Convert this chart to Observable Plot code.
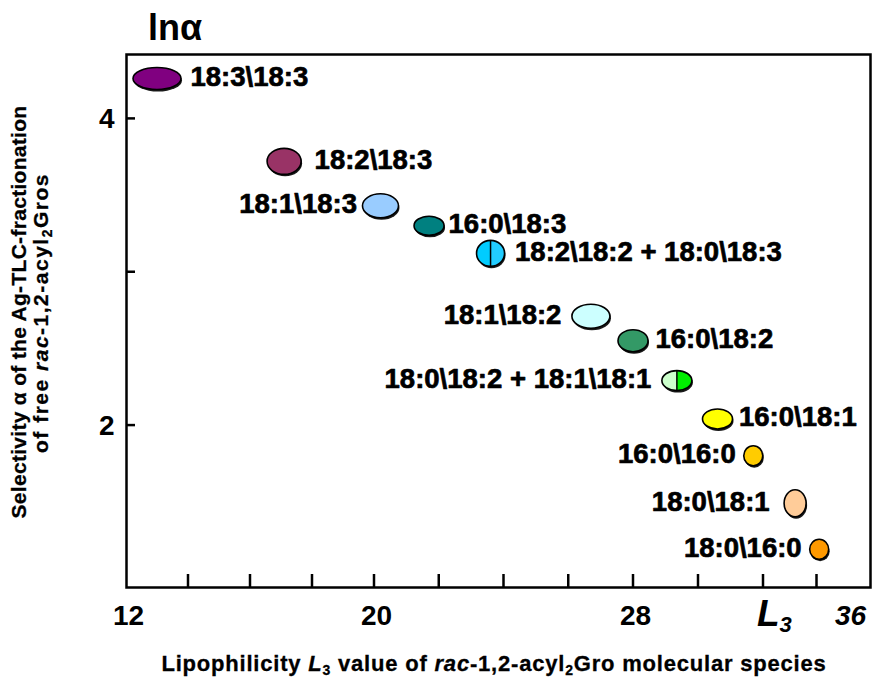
<!DOCTYPE html>
<html>
<head>
<meta charset="utf-8">
<script src="https://cdn.jsdelivr.net/npm/d3@7"></script>
<script src="https://cdn.jsdelivr.net/npm/@observablehq/plot@0.6"></script>
<style>
  body { margin: 0; background: #fff; }
  #chart svg { display: block; }
</style>
</head>
<body>
<div id="chart"></div>
<script>
// ---- data ----
const species = ["18:3\\18:3", "18:2\\18:3", "18:1\\18:3", "16:0\\18:3", "18:2\\18:2 + 18:0\\18:3",
  "18:1\\18:2", "16:0\\18:2", "18:0\\18:2 + 18:1\\18:1", "16:0\\18:1", "16:0\\16:0", "18:0\\18:1", "18:0\\16:0"];
const lipophilicityL3 = [13.0, 17.1, 20.2, 21.7, 23.6, 26.7, 28.0, 29.35, 30.6, 31.7, 33.2, 34.1];
const lnAlpha = [4.26, 3.72, 3.43, 3.30, 3.12, 2.71, 2.55, 2.29, 2.04, 1.80, 1.49, 1.19];

const xTicks = [14, 16, 18, 20, 22, 24, 26, 28, 30, 32, 34];
const xTickLabels = [12, 20, 28];
const xTickLabelsItalic = [36];
const yTicks = [2, 3, 4];
const yTickLabels = [2, 4];

// ---- styles (not data) ----
const fillLeft  = ["#800080", "#993366", "#99CCFF", "#008080", "#00CCFF", "#CCFFFF", "#339966", "#CCFFCC", "#FFFF00", "#FFCC00", "#FFCC99", "#FF9900"];
const fillRight = ["#800080", "#993366", "#99CCFF", "#008080", "#22CCFF", "#CCFFFF", "#339966", "#00EE00", "#FFFF00", "#FFCC00", "#FFCC99", "#FF9900"];
const splitMark = [false, false, false, false, true, false, false, true, false, false, false, false];
const radiusX = [24, 17, 18, 15, 14, 19, 15, 15, 15, 9.5, 11, 9.5];
const radiusY = [11, 13, 12, 9.5, 13, 12, 11, 10, 10, 10, 13.5, 10];
const labelSide = ["start", "start", "end", "start", "start", "end", "start", "end", "start", "end", "end", "end"];
const labelDx = [33, 30, -24, 19, 24, -30, 22, -26, 21, -18, -26, -18];

const points = species.map((s, i) => ({species: s, L3: lipophilicityL3[i], lnAlpha: lnAlpha[i], i}));

const FONT = "'Liberation Sans', Arial, Helvetica, sans-serif";

function ellipseMark(index, scales) {
  const g = d3.create("svg:g");
  points.forEach((p, i) => {
    const cx = scales.x(p.L3), cy = scales.y(p.lnAlpha);
    const rx = radiusX[i], ry = radiusY[i];
    g.append("ellipse").attr("cx", cx + 1).attr("cy", cy + 2).attr("rx", rx).attr("ry", ry).attr("fill", "#1a1a1a");
    g.append("ellipse").attr("cx", cx).attr("cy", cy).attr("rx", rx).attr("ry", ry)
      .attr("fill", fillLeft[i]);
    if (fillRight[i] !== fillLeft[i]) {
      g.append("path")
        .attr("d", `M${cx},${cy - ry}A${rx},${ry} 0 0 1 ${cx},${cy + ry}Z`)
        .attr("fill", fillRight[i]);
    }
    if (splitMark[i]) {
      g.append("line").attr("x1", cx).attr("x2", cx).attr("y1", cy - ry).attr("y2", cy + ry)
        .attr("stroke", "black").attr("stroke-width", 1.5);
    }
    g.append("ellipse").attr("cx", cx).attr("cy", cy).attr("rx", rx).attr("ry", ry)
      .attr("fill", "none").attr("stroke", "black").attr("stroke-width", 1.6);
  });
  return g.node();
}

function tickMark(index, scales, values, dimensions) {
  const {height, marginBottom, marginLeft} = dimensions;
  const g = d3.create("svg:g").attr("stroke", "black").attr("stroke-width", 2.5);
  const yb = height - marginBottom;
  xTicks.forEach(t => {
    const x = scales.x(t);
    g.append("line").attr("x1", x).attr("x2", x).attr("y1", yb).attr("y2", yb - 13);
  });
  yTicks.forEach(t => {
    const y = scales.y(t);
    g.append("line").attr("x1", marginLeft).attr("x2", marginLeft + 9).attr("y1", y).attr("y2", y);
  });
  return g.node();
}

function annotationMark() {
  const g = d3.create("svg:g").attr("font-family", FONT).attr("fill", "black")
    .attr("font-weight", "bold").attr("text-anchor", "start");
  // top-left symbol
  g.append("text").attr("x", 148).attr("y", 40).attr("font-size", 36).attr("text-anchor", "start").text("lnα");
  // "L3" next to x ticks
  const l3 = g.append("text").attr("x", 757).attr("y", 626).attr("font-size", 37)
    .attr("font-style", "italic").attr("text-anchor", "start");
  l3.append("tspan").text("L");
  l3.append("tspan").attr("font-size", 22).attr("dy", 6).text("3");
  // x axis title
  const xt = g.append("text").attr("x", 494).attr("y", 671).attr("text-anchor", "middle")
    .attr("font-size", 22).attr("letter-spacing", 0.8).attr("stroke", "black").attr("stroke-width", 0.3);
  xt.append("tspan").text("Lipophilicity ");
  xt.append("tspan").attr("font-style", "italic").text("L");
  xt.append("tspan").attr("font-size", 14).attr("dy", 4).text("3");
  xt.append("tspan").attr("dy", -4).text(" value of ");
  xt.append("tspan").attr("font-style", "italic").text("rac");
  xt.append("tspan").text("-1,2-acyl");
  xt.append("tspan").attr("font-size", 14).attr("dy", 4).text("2");
  xt.append("tspan").attr("dy", -4).text("Gro molecular species");
  // y axis title (two lines)
  const y1 = g.append("text").attr("transform", "translate(26,312) rotate(-90)").attr("text-anchor", "middle")
    .attr("font-size", 21).attr("letter-spacing", 0.3).attr("stroke", "black").attr("stroke-width", 0.3);
  y1.append("tspan").text("Selectivity α of the Ag-TLC-fractionation");
  const y2 = g.append("text").attr("transform", "translate(48,313) rotate(-90)").attr("text-anchor", "middle")
    .attr("font-size", 21).attr("letter-spacing", 1.5).attr("stroke", "black").attr("stroke-width", 0.3);
  y2.append("tspan").text("of free ");
  y2.append("tspan").attr("font-style", "italic").text("rac");
  y2.append("tspan").text("-1,2-acyl");
  y2.append("tspan").attr("font-size", 14).attr("dy", 4).text("2");
  y2.append("tspan").attr("dy", -4).text("Gros");
  return g.node();
}

const labelMarks = points.map((p, i) => Plot.text([p], {
  x: "L3", y: "lnAlpha", text: "species",
  textAnchor: labelSide[i], dx: labelDx[i], dy: -2,
  fontSize: 27.5, fontWeight: "bold", fill: "black",
  stroke: "black", strokeWidth: 0.7
}));

const tickText = {tickSize: 0, fontSize: 28, fontWeight: "bold", tickFormat: d => String(d), label: null, stroke: "black", strokeWidth: 0.5};

const chart = Plot.plot({
  width: 873,
  height: 679,
  marginLeft: 126,
  marginRight: 3,
  marginTop: 54,
  marginBottom: 92,
  style: {fontFamily: FONT, background: "white", color: "black"},
  x: {type: "linear", domain: [12, 20, 28, 32, 36], range: [126, 374, 633, 763, 870]},
  y: {type: "linear", domain: [0.944, 4.42]},
  marks: [
    Plot.axisX(xTickLabels, {...tickText, tickPadding: 18, dx: 2}),
    Plot.axisX(xTickLabelsItalic, {...tickText, tickPadding: 18, fontStyle: "italic", dx: -20}),
    Plot.axisY(yTickLabels, {...tickText, tickPadding: 12}),
    tickMark,
    Plot.frame({stroke: "black", strokeWidth: 2.5}),
    ellipseMark,
    ...labelMarks,
    annotationMark
  ]
});

document.getElementById("chart").appendChild(chart);
</script>
</body>
</html>
